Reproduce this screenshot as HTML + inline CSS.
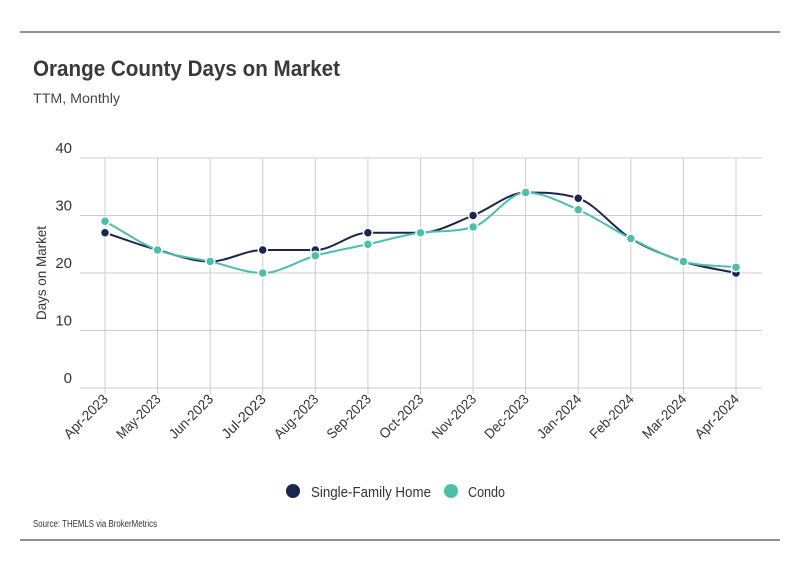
<!DOCTYPE html>
<html><head><meta charset="utf-8"><style>
body{margin:0;background:#fff;width:799px;height:575px;overflow:hidden;font-family:"Liberation Sans Narrow","Liberation Sans",sans-serif;}
svg text{font-family:"Liberation Sans Narrow","Liberation Sans",sans-serif;}
</style></head><body>
<svg id="chart" width="799" height="575">
<line x1="20" y1="32" x2="780" y2="32" stroke="#222" stroke-width="1"/>
<line x1="20" y1="540" x2="780" y2="540" stroke="#222" stroke-width="1"/>
<text x="33" y="76" font-size="22" font-weight="bold" fill="#3a3a3a" textLength="307" lengthAdjust="spacingAndGlyphs">Orange County Days on Market</text>
<text x="33" y="103" font-size="14" fill="#444" textLength="87" lengthAdjust="spacingAndGlyphs">TTM, Monthly</text>
<text transform="translate(46,273) rotate(-90)" text-anchor="middle" font-size="14" fill="#333" textLength="94" lengthAdjust="spacingAndGlyphs">Days on Market</text>
<g id="grid"></g><g id="series"></g><g id="xlabels"></g>
<g>
<g><circle cx="293" cy="491" r="7" fill="#1a2550"/><text x="311" y="497" font-size="15" fill="#333" textLength="120" lengthAdjust="spacingAndGlyphs">Single-Family Home</text></g>
<g><circle cx="451" cy="491" r="7" fill="#4dbfa8"/><text x="468" y="497" font-size="15" fill="#333" textLength="37" lengthAdjust="spacingAndGlyphs">Condo</text></g>
</g>
<text x="33" y="527" font-size="10" fill="#333" textLength="124" lengthAdjust="spacingAndGlyphs">Source:  THEMLS via BrokerMetrics</text>
</svg>
<script>
const categories=["Apr-2023","May-2023","Jun-2023","Jul-2023","Aug-2023","Sep-2023","Oct-2023","Nov-2023","Dec-2023","Jan-2024","Feb-2024","Mar-2024","Apr-2024"];
const singleFamily=[27,24,22,24,24,27,27,30,34,33,26,22,20];
const condo=[29,24,22,20,23,25,27,28,34,31,26,22,21];
const yTicks=[0,10,20,30,40];
const NS="http://www.w3.org/2000/svg";
const x0=105,x1=736,yBase=388,yTop=158,plotL=80,plotR=762;
function xs(i){return x0+i*(x1-x0)/(categories.length-1);}
function ys(v){return yBase-(v/40)*(yBase-yTop);}
function mk(t,a,p){const e=document.createElementNS(NS,t);for(const k in a)e.setAttribute(k,a[k]);p.appendChild(e);return e;}
const grid=document.getElementById('grid'),ser=document.getElementById('series'),xl=document.getElementById('xlabels');
yTicks.forEach(v=>{
 const l=mk('line',{x1:plotL,x2:plotR,y1:ys(v),y2:ys(v),stroke:'#ccc','stroke-width':1},grid);
 
 
 const t=mk('text',{x:72,y:ys(v)-5,'text-anchor':'end','font-size':15,fill:'#333'},grid);t.textContent=v;
 
 
});
categories.forEach((c,i)=>{
 const l=mk('line',{x1:xs(i),x2:xs(i),y1:yTop,y2:yBase+6,stroke:'#ccc','stroke-width':1},grid);
 
 
 const t=mk('text',{transform:`translate(${xs(i)+4},${yBase+12}) rotate(-45)`,'text-anchor':'end','font-size':14,fill:'#333',textLength:56,lengthAdjust:'spacingAndGlyphs'},xl);t.textContent=c;
 
 
});
function monotone(pts){
 const n=pts.length,d=[],m=[];
 for(let i=0;i<n-1;i++)d.push((pts[i+1][1]-pts[i][1])/(pts[i+1][0]-pts[i][0]));
 for(let i=0;i<n;i++){
  if(i===0)m.push(d[0]);else if(i===n-1)m.push(d[n-2]);
  else m.push(d[i-1]*d[i]<=0?0:(d[i-1]+d[i])/2);
 }
 for(let i=0;i<n-1;i++){if(d[i]===0){m[i]=0;m[i+1]=0;}else{const a=m[i]/d[i],b=m[i+1]/d[i],s=a*a+b*b;if(s>9){const t=3/Math.sqrt(s);m[i]=t*a*d[i];m[i+1]=t*b*d[i];}}}
 let p=`M${pts[0][0]},${pts[0][1]}`;
 for(let i=0;i<n-1;i++){const h=(pts[i+1][0]-pts[i][0])/3;p+=`C${pts[i][0]+h},${pts[i][1]+m[i]*h} ${pts[i+1][0]-h},${pts[i+1][1]-m[i+1]*h} ${pts[i+1][0]},${pts[i+1][1]}`;}
 return p;
}
function draw(vals,color,name){
 const pts=vals.map((v,i)=>[xs(i),ys(v)]);
 const p=mk('path',{d:monotone(pts),fill:'none',stroke:color,'stroke-width':2},ser);
 
 
 pts.forEach(q=>{const c=mk('circle',{cx:q[0],cy:q[1],r:4.5,fill:color,stroke:'#fff','stroke-width':1.5},ser);
 
 });
}
draw(singleFamily,'#1a2550','single-family');
draw(condo,'#4dbfa8','condo');
</script>
</body></html>
